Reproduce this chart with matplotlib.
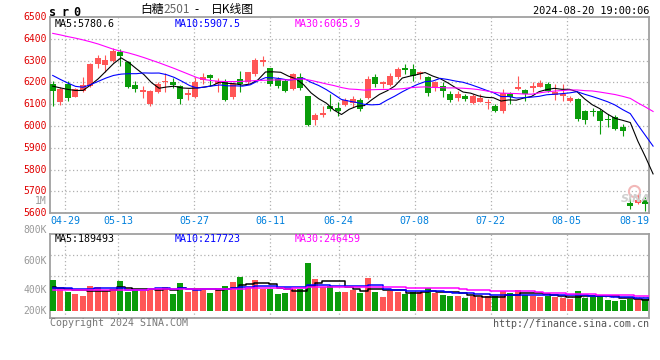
import numpy as np
import pandas as pd
import matplotlib
matplotlib.use("Agg")
import matplotlib.pyplot as plt
import matplotlib.transforms as mtransforms

# SR0 (sugar 2501) daily candles, 80 sessions up to 2024-08-20
opens = [6195, 6108, 6195, 6135, 6162, 6182, 6285, 6279, 6297, 6339,
         6294, 6188, 6155, 6103, 6155, 6200, 6203, 6185, 6142, 6133,
         6212, 6233, 6192, 6200, 6135, 6215, 6200, 6238, 6294, 6265,
         6215, 6205, 6170, 6223, 6136, 6026, 6052, 6091, 6083, 6098,
         6105, 6121, 6127, 6227, 6191, 6188, 6223, 6265, 6261, 6238,
         6223, 6173, 6185, 6147, 6127, 6139, 6106, 6112, 6106, 6094,
         6068, 6145, 6169, 6165, 6176, 6180, 6192, 6142, 6136, 6116,
         6124, 6070, 6066, 6070, 6032, 6040, 5994, 5649, 5646, 5664]
highs = [6208, 6179, 6207, 6173, 6227, 6291, 6327, 6324, 6360, 6351,
         6297, 6206, 6182, 6165, 6200, 6241, 6221, 6188, 6170, 6223,
         6245, 6238, 6222, 6215, 6200, 6253, 6250, 6314, 6321, 6268,
         6223, 6218, 6245, 6242, 6139, 6059, 6094, 6147, 6112, 6130,
         6139, 6127, 6230, 6238, 6208, 6242, 6273, 6283, 6283, 6253,
         6230, 6208, 6200, 6162, 6162, 6147, 6147, 6147, 6124, 6101,
         6168, 6155, 6228, 6172, 6202, 6210, 6203, 6192, 6192, 6136,
         6127, 6075, 6085, 6078, 6055, 6050, 6009, 5669, 5684, 5676]
lows = [6094, 6098, 6115, 6133, 6155, 6179, 6268, 6248, 6295, 6276,
        6176, 6155, 6130, 6090, 6152, 6158, 6173, 6103, 6121, 6130,
        6192, 6185, 6158, 6117, 6124, 6158, 6192, 6230, 6276, 6182,
        6174, 6158, 6167, 6167, 6000, 6006, 6041, 6071, 6048, 6090,
        6086, 6071, 6124, 6177, 6173, 6185, 6218, 6238, 6208, 6215,
        6136, 6162, 6135, 6109, 6117, 6117, 6103, 6109, 6079, 6064,
        6060, 6101, 6166, 6116, 6157, 6178, 6154, 6120, 6116, 6108,
        6021, 6009, 6044, 5963, 5994, 5983, 5956, 5618, 5643, 5612]
closes = [6159, 6170, 6130, 6170, 6188, 6285, 6312, 6301, 6345, 6321,
          6179, 6170, 6165, 6161, 6192, 6208, 6188, 6124, 6152, 6203,
          6227, 6221, 6208, 6121, 6192, 6195, 6248, 6302, 6303, 6195,
          6185, 6161, 6238, 6173, 6003, 6052, 6060, 6079, 6071, 6121,
          6122, 6076, 6215, 6192, 6203, 6230, 6261, 6258, 6230, 6248,
          6150, 6200, 6162, 6121, 6147, 6124, 6139, 6127, 6112, 6071,
          6150, 6133, 6177, 6147, 6182, 6197, 6162, 6154, 6147, 6127,
          6032, 6029, 6063, 6024, 6029, 5986, 5979, 5635, 5662, 5641]
# volume, thousand lots
vols_k = [511, 386, 312, 276, 246, 418, 402, 339, 370, 496,
          312, 344, 339, 370, 370, 402, 276, 464, 312, 370,
          370, 292, 386, 418, 480, 574, 375, 515, 370, 370,
          276, 292, 370, 370, 800, 531, 402, 420, 318, 306,
          346, 290, 548, 318, 226, 334, 322, 280, 318, 322,
          380, 305, 270, 255, 240, 212, 240, 228, 255, 240,
          330, 292, 350, 272, 240, 228, 240, 228, 218, 200,
          335, 215, 235, 270, 175, 170, 182, 200, 195, 200]

# moving-average values before each window fills
ma5_head = [6183, 6175, 6168, 6163]
ma10_head = [6232, 6214, 6197, 6182, 6178, 6190, 6205, 6220, 6232]
ma30_head = [6425, 6418, 6410, 6403, 6395, 6386, 6376, 6364, 6352, 6343,
             6335, 6325, 6314, 6302, 6290, 6277, 6264, 6250, 6236, 6222,
             6213, 6208, 6205, 6204, 6204, 6205, 6207, 6209, 6210]
vma5_head = [392, 380, 365, 352]
vma10_head = [380, 378, 376, 372, 370, 372, 375, 376, 376]
vma30_head = [348, 348, 349, 349, 350, 350, 351, 352, 352, 353,
              354, 355, 356, 357, 358, 359, 360, 361, 362, 363,
              364, 366, 367, 368, 370, 372, 374, 376, 378]

date_labels = ['04-29', '05-13', '05-27', '06-11', '06-24', '07-08', '07-22', '08-05', '08-19']
date_idx = [2, 9, 19, 29, 38, 48, 58, 68, 78]
price_ticks = [5600, 5700, 5800, 5900, 6000, 6100, 6200, 6300, 6400, 6500]
vol_tick_labels = ['1M', '800K', '600K', '400K', '200K']
price_ma_text = ['MA5:5780.6', 'MA10:5907.5', 'MA30:6065.9']
vol_ma_text = ['MA5:189493', 'MA10:217723', 'MA30:246459']

RED = '#ff5656'
GREEN = '#0a9c0a'
MA_COLORS = ['#000000', '#0000ff', '#ff00ff']
FRAME = '#a0a0a0'
GRID = '#b0b0b0'

plt.rcParams['font.family'] = ['DejaVu Sans Mono', 'Noto Sans CJK SC']

W, H = 660, 360
fig = plt.figure(figsize=(6.6, 3.6), dpi=100)


def box(x0, y0, x1, y1):
    # pixel box (top-left origin) -> figure fraction rect
    return [x0 / W, 1 - y1 / H, (x1 - x0) / W, (y1 - y0) / H]


def ftext(px, py, s, **kw):
    return fig.text(px / W, 1 - py / H, s, **kw)


def moving(values, n, head):
    ma = pd.Series(values, dtype=float).rolling(n).mean().to_numpy()
    ma[:n - 1] = head
    return ma


ax = fig.add_axes(box(50, 17, 649, 213.3))
axv = fig.add_axes(box(50, 234.3, 649, 318.3))

n = len(closes)
x = np.arange(n)
# lines and date grid run on a slightly wider step than the candles
xl = x * 7.6 / 7.5
o, h, l, c = (np.array(a, dtype=float) for a in (opens, highs, lows, closes))
colors = np.where(c >= o, RED, GREEN)

# candles
ax.vlines(x, l, h, colors=colors, lw=0.8, zorder=3)
body = np.maximum(np.abs(c - o), 4.6)
ax.bar(x, body, 0.8, bottom=np.minimum(o, c), color=colors, lw=0, zorder=3)

for ma, col in zip([moving(closes, 5, ma5_head), moving(closes, 10, ma10_head),
                    moving(closes, 30, ma30_head)], MA_COLORS):
    ax.plot(xl, ma, color=col, lw=0.8, zorder=4, clip_on=False)

xmin, xmax = -0.36, 79.51
ax.set_xlim(xmin, xmax)
ax.set_ylim(5600, 6500)

# volume
vols = np.array(vols_k) * 1000
axv.bar(x, vols, 0.8, color=colors, lw=0, zorder=3)
for ma, col in zip([moving(vols_k, 5, vma5_head), moving(vols_k, 10, vma10_head),
                    moving(vols_k, 30, vma30_head)], MA_COLORS):
    axv.plot(xl, ma * 1000, color=col, lw=1.1, drawstyle='steps-mid', zorder=4)
axv.set_xlim(xmin, xmax)
px_per = 16800
axv.set_ylim(-(318.3 - 310.7) * px_per, (310.7 - 234.3) * px_per)

# grids and frames
grid_x = np.array(date_idx) * 7.6 / 7.5 - 0.35
for a in (ax, axv):
    a.set_xticks([])
    a.set_yticks([])
    for s in a.spines.values():
        s.set_color(FRAME)
        s.set_linewidth(1.3)
    for gx in grid_x[:-1]:
        a.axvline(gx, color=GRID, lw=0.9, ls=(0, (1, 2)), zorder=1)
for p in price_ticks[1:-1]:
    ax.axhline(p, color=GRID, lw=0.9, ls=(0, (1, 2)), zorder=1)
for f in (0.25, 0.5, 0.75):
    axv.plot([0, 1], [f, f], transform=axv.transAxes, color=GRID, lw=0.9,
             ls=(0, (1, 2)), zorder=1)

# price labels
for p in price_ticks:
    ftext(47, 17 + (6500 - p) * 196.3 / 900, str(p), color='#e00000',
          fontsize=7.0, ha='right', va='center')
# volume labels (placed where the source chart puts them)
for lab, py in zip(vol_tick_labels, [200.5, 230.3, 261, 290.3, 310.7]):
    ftext(47, py, lab, color='#999999', fontsize=7.0, ha='right', va='center')

# date labels
trans = mtransforms.blended_transform_factory(ax.transData, ax.transAxes)
for k, (lab, gx) in enumerate(zip(date_labels, grid_x)):
    if k == len(date_labels) - 1:
        ax.text(xmax, -0.04, lab, transform=trans, ha='right', va='center',
                color='#0080dd', fontsize=7.2)
    else:
        ax.text(gx, -0.04, lab, transform=trans, ha='center', va='center',
                color='#0080dd', fontsize=7.2)

# MA legends
for s, col, px in zip(price_ma_text, MA_COLORS, [55, 175, 295]):
    ftext(px, 23.7, s, color=col, fontsize=7.2, ha='left', va='center')
for s, col, px in zip(vol_ma_text, MA_COLORS, [54.5, 174.5, 294.5]):
    ftext(px, 238.7, s, color=col, fontsize=7.2, ha='left', va='center')

# header
for ch, px in zip('sr0', [53, 65, 76.7]):
    ftext(px, 12, ch, fontsize=8.5, fontweight='bold', ha='center', va='center')
cjk = ['Noto Sans CJK SC', 'DejaVu Sans']
ftext(140, 9.5, '白糖', family=cjk, fontsize=8.5, ha='left', va='center')
ftext(163.5, 9.5, '2501', family=cjk, fontsize=8.5, color='#666666', ha='left', va='center')
ftext(197, 9.5, '-', family=cjk, fontsize=8.5, ha='center', va='center')
ftext(211, 9.5, '日K线图', family=cjk, fontsize=8.5, ha='left', va='center')
ftext(649, 11.2, '2024-08-20 19:00:06', fontsize=7.4, ha='right', va='center')

# footer
ftext(50, 323.5, 'Copyright 2024 SINA.COM', color='#777777', fontsize=7.2,
      ha='left', va='center')
ftext(649, 324, 'http://finance.sina.com.cn', color='#555555', fontsize=7.2,
      ha='right', va='center')

# faint sina watermark
ax.plot([633.5 / W], [1 - 191 / H], transform=fig.transFigure, marker='o', ms=8,
        mfc='none', mec='#f2b8b8', mew=1.5, clip_on=False, zorder=2)
ftext(636, 199.5, 'SINA', family='DejaVu Sans', fontsize=8, fontweight='bold',
      fontstyle='italic', color='#cfcfcf', ha='center', va='center', zorder=2)

fig.savefig('out.png', dpi=100)
